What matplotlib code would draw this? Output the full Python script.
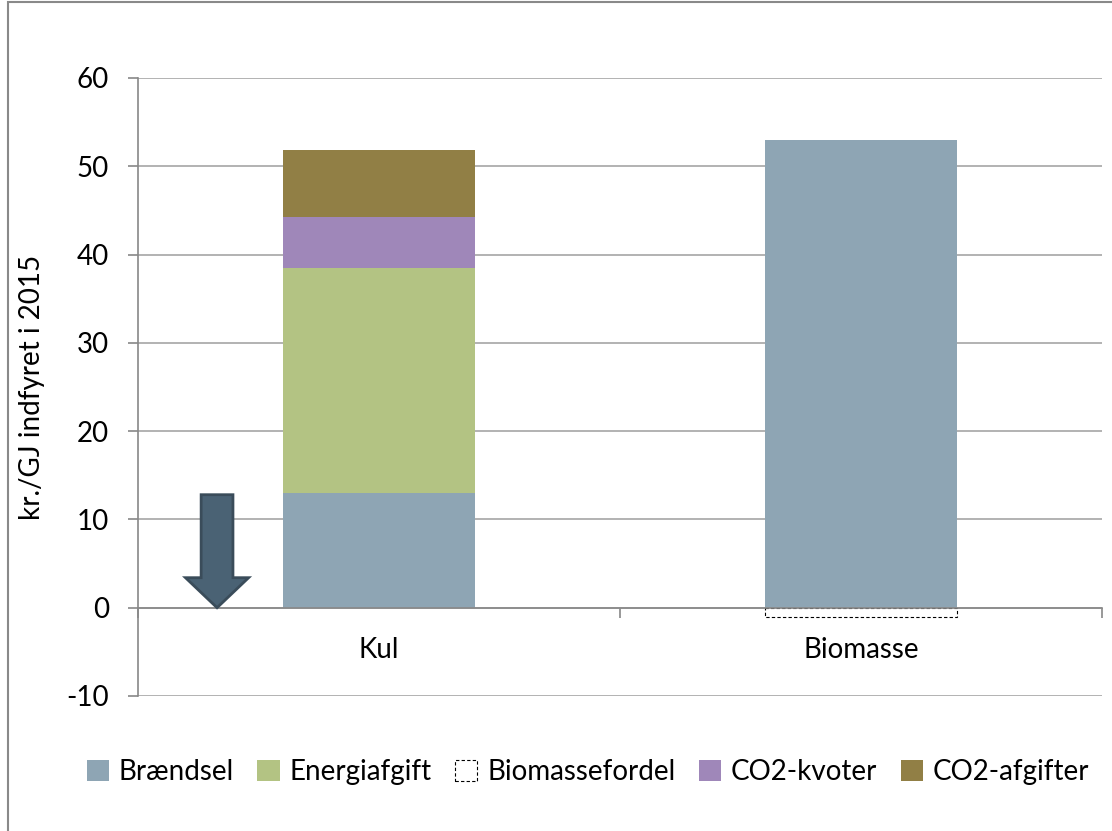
import matplotlib
matplotlib.use("Agg")
import matplotlib.pyplot as plt
import matplotlib.patches as mpatches
import numpy as np

plt.rcParams['font.family'] = ['Lato', 'DejaVu Sans']
plt.rcParams['axes.unicode_minus'] = False

categories = ["Kul", "Biomasse"]
series_names = ["Brændsel", "Energiafgift", "Biomassefordel", "CO2-kvoter", "CO2-afgifter"]
braendsel = [13.0, 53.0]
energiafgift = [25.5, 0.0]
biomassefordel = [0.0, -1.1]
co2_kvoter = [5.8, 0.0]
co2_afgifter = [7.6, 0.0]
yticks = [-10, 0, 10, 20, 30, 40, 50, 60]

series = [braendsel, energiafgift, biomassefordel, co2_kvoter, co2_afgifter]
colors = ["#8ea5b4", "#b3c383", "white", "#9f87b9", "#917f45"]

FS = 20

fig = plt.figure(figsize=(11.12, 8.31), dpi=100)
ax = fig.add_axes([138/1112, 1-696/831, (1102-138)/1112, (696-78)/831])

x = np.arange(len(categories))
pos_bottom = np.zeros(len(categories))
neg_bottom = np.zeros(len(categories))
handles = []
for name, vals, col in zip(series_names, series, colors):
    vals = np.array(vals, dtype=float)
    bottoms = np.where(vals >= 0, pos_bottom, neg_bottom)
    mask = vals != 0
    if name == "Biomassefordel":
        bars = ax.bar(x[mask], vals[mask], 0.4, bottom=bottoms[mask], facecolor="white",
                      edgecolor="black", linestyle=(0, (3, 2)), linewidth=0.8,
                      zorder=3, label=name)
    else:
        bars = ax.bar(x[mask], vals[mask], 0.4, bottom=bottoms[mask], color=col,
                      zorder=3, label=name)
    handles.append(bars)
    pos_bottom += np.where(vals > 0, vals, 0)
    neg_bottom += np.where(vals < 0, vals, 0)

ax.set_xlim(-0.5, 1.5)
ax.set_ylim(-10, 60)
ax.set_yticks(yticks)
ax.yaxis.grid(True, color="#a6a6a6", linewidth=1.2, zorder=0)
ax.set_axisbelow(True)

for s in ["top", "right"]:
    ax.spines[s].set_visible(False)
ax.spines["left"].set_color("#888888")
ax.spines["left"].set_linewidth(1.2)
ax.spines["bottom"].set_position(("data", 0))
ax.spines["bottom"].set_color("#888888")
ax.spines["bottom"].set_linewidth(1.2)
ax.spines["bottom"].set_zorder(4)

ax.tick_params(axis="y", direction="out", length=7, width=1.2, color="#888888",
               labelsize=FS, pad=14)
ax.set_xticks(x)
ax.set_xticklabels(categories)
ax.tick_params(axis="x", which="major", length=0, labelsize=FS, pad=21)
ax.set_xticks([-0.5, 0.5, 1.5], minor=True)
ax.tick_params(axis="x", which="minor", direction="out", length=7, width=1.2, color="#888888")

ax.set_ylabel("kr./GJ indfyret i 2015", fontsize=FS)
ax.yaxis.set_label_coords(-(138-45)/964, 0.5)

# annotation arrow
arrow = mpatches.FancyArrow(-0.336, 12.8, 0, -12.8, width=0.066, head_width=0.131,
                            head_length=3.4, length_includes_head=True,
                            facecolor="#4a6274", edgecolor="#3a4c5a", linewidth=2,
                            zorder=5)
ax.add_patch(arrow)

leg = fig.legend(handles=handles, labels=series_names, loc="center",
                 bbox_to_anchor=(588/1112, 1-772/831), ncol=5, frameon=False,
                 fontsize=FS, handlelength=0.8, handleheight=0.8,
                 handletextpad=0.35, columnspacing=0.85)

# outer chart border
border = mpatches.Rectangle((8/1112, -0.05), 1.2, 1.05 - 2/831, transform=fig.transFigure,
                            fill=False, edgecolor="#898989", linewidth=1.5)
fig.patches.append(border)

fig.savefig("out.png", dpi=100)
